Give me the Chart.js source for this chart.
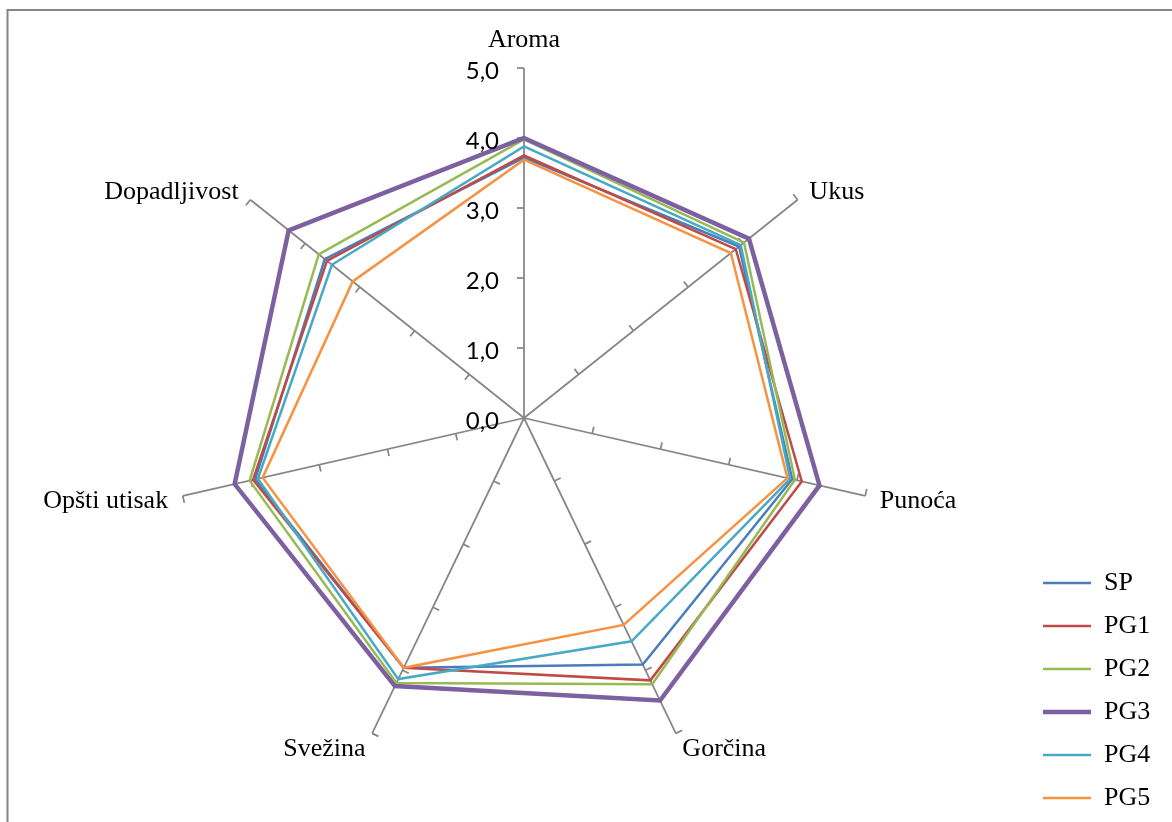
<!DOCTYPE html>
<html>
<head>
<meta charset="utf-8">
<title>Senzorna ocena</title>
<script src="https://cdn.jsdelivr.net/npm/chart.js@4.4.0/dist/chart.umd.min.js"></script>
<style>
	body { margin: 0; background: #fff; }
	canvas { display: block; }
</style>
</head>
<body>
<canvas id="radarChart" width="1172" height="822"></canvas>
<script>
// Ose (kategorije ocene)
const categories = ['Aroma', 'Ukus', 'Punoća', 'Gorčina', 'Svežina', 'Opšti utisak', 'Dopadljivost']

// Ocene po uzorku, redom kao ose
const sp = [3.72, 3.93, 3.93, 3.91, 3.96, 3.94, 3.64]
const pg1 = [3.75, 3.87, 4.07, 4.16, 3.96, 3.97, 3.60]
const pg2 = [3.98, 4.02, 3.97, 4.22, 4.20, 4.02, 3.75]
const pg3 = [4.00, 4.11, 4.33, 4.48, 4.25, 4.24, 4.30]
const pg4 = [3.88, 3.96, 3.90, 3.54, 4.14, 3.90, 3.51]
const pg5 = [3.69, 3.78, 3.86, 3.28, 3.96, 3.83, 3.13]

const seriesNames = ['SP', 'PG1', 'PG2', 'PG3', 'PG4', 'PG5']
const seriesValues = [sp, pg1, pg2, pg3, pg4, pg5]

// Podela skale
const tickValues = [0, 1, 2, 3, 4, 5]
const tickLabels = ['0,0', '1,0', '2,0', '3,0', '4,0', '5,0']

const lineColors = ['#4A7EBB', '#BE4B48', '#98B954', '#7D60A0', '#46AAC5', '#F69240']
const axisColor = '#868686'

// Okvir, crtice na osama, oznake skale i nazivi osa
const radarDecor = {
	id: 'radarDecor',
	beforeDraw(chart) {
		const ctx = chart.ctx
		ctx.save()
		ctx.strokeStyle = axisColor
		ctx.lineWidth = 2
		ctx.strokeRect(7.5, 10, 1300, 1000)
		ctx.restore()
	},
	beforeDatasetsDraw(chart) {
		const scale = chart.scales.r
		const ctx = chart.ctx
		ctx.save()
		ctx.strokeStyle = axisColor
		ctx.lineWidth = 1.75
		categories.forEach((name, i) => {
			const end = scale.getPointPosition(i, scale.drawingArea)
			const ux = (end.x - scale.xCenter) / scale.drawingArea
			const uy = (end.y - scale.yCenter) / scale.drawingArea
			tickValues.forEach((v) => {
				if (v === 0) return
				const p = scale.getPointPositionForValue(i, v)
				ctx.beginPath()
				ctx.moveTo(p.x, p.y)
				ctx.lineTo(p.x + uy * 7, p.y - ux * 7)
				ctx.stroke()
			})
		})
		ctx.restore()
	},
	afterDraw(chart) {
		const scale = chart.scales.r
		const ctx = chart.ctx
		ctx.save()
		ctx.fillStyle = '#000'
		ctx.textBaseline = 'middle'

		// Brojevi na skali
		ctx.font = '24px Lato'
		ctx.textAlign = 'right'
		tickValues.forEach((v, k) => {
			const y = scale.yCenter - scale.getDistanceFromCenterForValue(v)
			ctx.fillText(tickLabels[k], scale.xCenter - 25, y + 3)
		})

		// Nazivi osa
		ctx.font = '26px "Liberation Serif"'
		categories.forEach((name, i) => {
			const end = scale.getPointPosition(i, scale.drawingArea)
			const ux = (end.x - scale.xCenter) / scale.drawingArea
			const uy = (end.y - scale.yCenter) / scale.drawingArea
			let x = end.x + ux * 15
			let y = end.y + uy * 15 + 2
			if (Math.abs(ux) < 0.01) {
				ctx.textAlign = 'center'
				y -= 15
			} else {
				ctx.textAlign = ux > 0 ? 'left' : 'right'
			}
			ctx.fillText(name, x, y)
		})
		ctx.restore()
	},
	afterLayout(chart) {
		// legenda dole desno, kao u originalu
		const lg = chart.legend
		lg.left = 1026
		lg.right = 1172
		lg.top = 553
		lg.bottom = 1100
	},
}

const datasets = seriesNames.map((name, i) => ({
	label: name,
	data: seriesValues[i],
	borderColor: lineColors[i],
	backgroundColor: lineColors[i],
	borderWidth: name === 'PG3' ? 4.5 : 2.5,
	borderCapStyle: 'round',
	fill: false,
	tension: 0,
	pointRadius: 0,
	pointHoverRadius: 0,
	pointStyle: 'line',
	order: seriesNames.length - i,
}))

const ctx = document.getElementById('radarChart').getContext('2d')
const chart = new Chart(ctx, {
	type: 'radar',
	data: {
		labels: categories,
		datasets: datasets,
	},
	options: {
		responsive: false,
		animation: false,
		devicePixelRatio: 1,
		layout: {
			padding: { left: 34, right: 22, top: 68, bottom: 54 },
		},
		scales: {
			r: {
				min: 0,
				max: 5,
				ticks: { display: false, stepSize: 1 },
				grid: { display: false },
				angleLines: { display: true, color: axisColor, lineWidth: 1.75 },
				pointLabels: { display: false },
			},
		},
		plugins: {
			tooltip: { enabled: false },
			legend: {
				position: 'right',
				align: 'start',
				labels: {
					sort: (a, b) => a.datasetIndex - b.datasetIndex,
					usePointStyle: true,
					pointStyle: 'line',
					pointStyleWidth: 48,
					padding: 17,
					color: '#000',
					font: { family: 'Liberation Serif', size: 26 },
				},
			},
		},
	},
	plugins: [radarDecor],
})
</script>
</body>
</html>
